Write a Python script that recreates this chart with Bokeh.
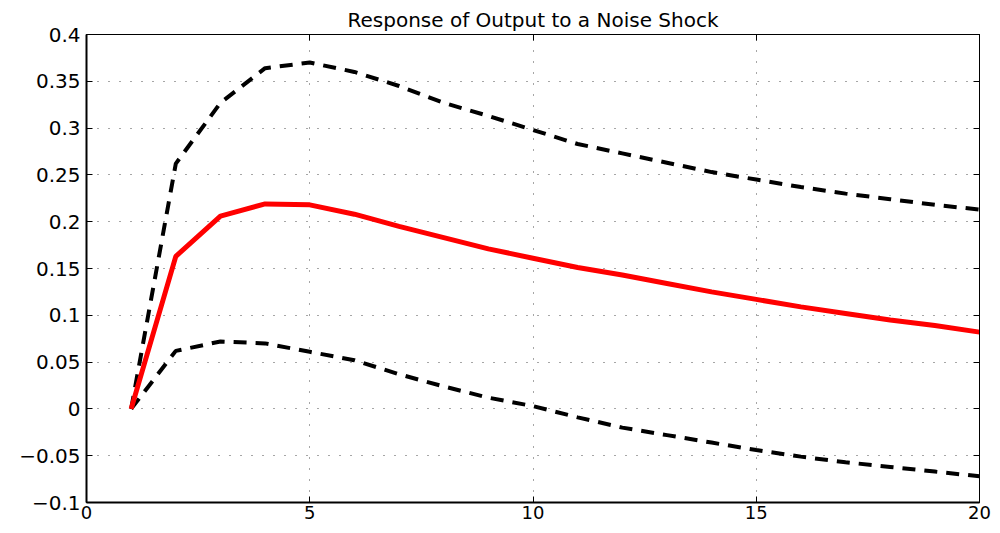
from bokeh.plotting import figure
from bokeh.models import Range1d, LinearAxis, FixedTicker, CustomJSTickFormatter
from bokeh.embed import file_html
from bokeh.resources import INLINE

horizon = list(range(1, 21))
response = [0.0, 0.163, 0.206, 0.219, 0.218, 0.208, 0.195, 0.183, 0.171, 0.161,
            0.151, 0.143, 0.134, 0.125, 0.117, 0.109, 0.102, 0.095, 0.089, 0.082]
upper = [0.0, 0.262, 0.327, 0.364, 0.370, 0.360, 0.345, 0.327, 0.313, 0.298,
         0.283, 0.273, 0.263, 0.253, 0.245, 0.237, 0.230, 0.224, 0.218, 0.213]
lower = [0.0, 0.062, 0.072, 0.070, 0.061, 0.052, 0.037, 0.024, 0.012, 0.003,
         -0.009, -0.020, -0.028, -0.036, -0.044, -0.051, -0.057, -0.062, -0.067, -0.072]
xticks = [0, 5, 10, 15, 20]
yticks = [-0.1, -0.05, 0, 0.05, 0.1, 0.15, 0.2, 0.25, 0.3, 0.35, 0.4]

FONT = "DejaVu Sans"

p = figure(width=993, height=531, frame_width=893, frame_height=468,
           x_range=Range1d(0, 20), y_range=Range1d(-0.1, 0.4),
           output_backend="svg", toolbar_location=None,
           min_border_left=86, min_border_top=34, min_border_right=14, min_border_bottom=10,
           title="Response of Output to a Noise Shock")
p.title.align = "center"
p.title.text_font = FONT
p.title.text_font_size = "20px"
p.title.text_font_style = "normal"
p.title.text_color = "black"
p.title.standoff = 6
p.title.offset = 0

fmt = CustomJSTickFormatter(code="""
const v = +tick.toFixed(2);
return v < 0 ? '\\u2212' + String(Math.abs(v)) : String(v);
""")
blank = CustomJSTickFormatter(code="return '';")

for ax in (p.xaxis[0], p.yaxis[0]):
    ax.major_tick_in = 6
    ax.major_tick_out = 0
    ax.minor_tick_in = 0
    ax.minor_tick_out = 0
    ax.axis_line_width = 2
    ax.axis_line_color = "black"
    ax.major_tick_line_color = "black"
    ax.major_label_text_font = FONT
    ax.major_label_text_font_size = "20px"
    ax.major_label_text_color = "black"
    ax.formatter = fmt
p.xaxis[0].ticker = FixedTicker(ticks=xticks)
p.yaxis[0].ticker = FixedTicker(ticks=yticks)
p.xaxis[0].major_label_text_font_size = "18px"
p.xaxis[0].major_label_standoff = 3
p.yaxis[0].major_label_standoff = 6

right = LinearAxis(ticker=FixedTicker(ticks=yticks), formatter=blank,
                   major_tick_in=6, major_tick_out=0, minor_tick_in=0, minor_tick_out=0,
                   major_label_standoff=0, axis_line_width=1)
top = LinearAxis(ticker=FixedTicker(ticks=xticks), formatter=blank,
                 major_tick_in=6, major_tick_out=0, minor_tick_in=0, minor_tick_out=0,
                 major_label_standoff=0, axis_line_width=1)
p.add_layout(right, "right")
p.add_layout(top, "above")

p.xgrid.ticker = FixedTicker(ticks=xticks)
p.ygrid.ticker = FixedTicker(ticks=yticks)
for g in (p.xgrid[0], p.ygrid[0]):
    g.grid_line_color = "black"
    g.grid_line_alpha = 0.7
    g.grid_line_dash = "1 10"
    g.grid_line_width = 1

p.outline_line_color = "black"
p.outline_line_width = 1

p.line(horizon, upper, line_color="black", line_width=4, line_dash="13 9")
p.line(horizon, lower, line_color="black", line_width=4, line_dash="13 9")
p.line(horizon, response, line_color="#ff0000", line_width=5)

open("out.html", "w").write(file_html(p, INLINE))
